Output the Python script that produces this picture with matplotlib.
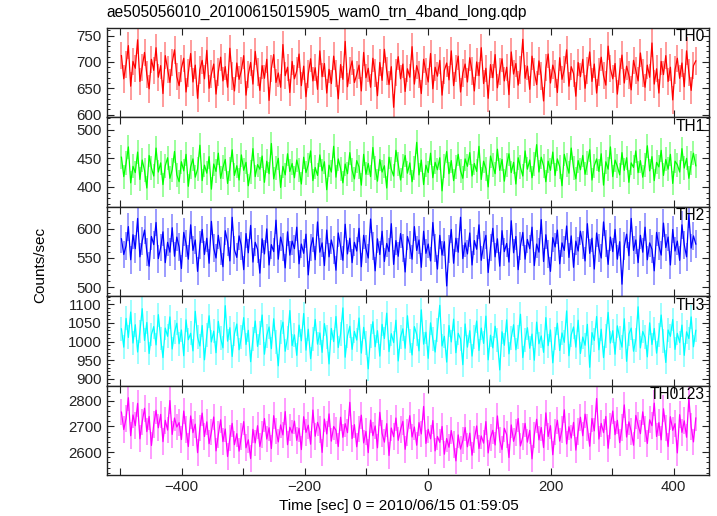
import numpy as np
import matplotlib
matplotlib.use("Agg")
import matplotlib.pyplot as plt
from matplotlib.ticker import MultipleLocator, FuncFormatter

plt.rcParams['font.family'] = ['Liberation Sans', 'DejaVu Sans']

title = "ae505056010_20100615015905_wam0_trn_4band_long.qdp"
xlabel = "Time [sec] 0 = 2010/06/15 01:59:05"
ylabel = "Counts/sec"

# time bins (sec from 2010/06/15 01:59:05)
t_start = -498.0
t_step = 3.75

th0 = [712, 668, 695, 731, 654, 701, 688, 742, 663, 690, 718, 676, 649, 705, 684, 727, 671, 693, 640, 712, 686, 661, 699, 723, 672,
       655, 688, 707, 643, 679, 716, 662, 694, 631, 685, 703, 668, 722, 650, 677, 696, 639, 681, 709, 664, 691, 652, 726, 673, 645,
       698, 667, 684, 712, 637, 676, 699, 658, 720, 681, 646, 693, 669, 705, 627, 688, 714, 661, 679, 652, 733, 674, 690, 642, 701,
       668, 683, 715, 655, 692, 634, 677, 706, 664, 689, 648, 721, 672, 697, 641, 686, 659, 711, 678, 630, 695, 667, 739, 653, 684,
       702, 661, 676, 694, 645, 718, 670, 688, 652, 707, 679, 636, 699, 665, 724, 683, 657, 691, 614, 680, 710, 668, 696, 644, 687,
       671, 729, 658, 693, 676, 640, 705, 682, 662, 716, 649, 690, 673, 703, 637, 684, 698, 666, 721, 655, 687, 711, 643, 679, 696,
       662, 708, 683, 645, 700, 674, 727, 659, 688, 631, 695, 670, 714, 651, 682, 706, 664, 690, 638, 719, 677, 697, 656, 685, 743,
       669, 692, 648, 711, 681, 657, 702, 673, 626, 689, 715, 660, 694, 677, 642, 708, 667, 686, 723, 654, 691, 678, 635, 699, 672,
       705, 650, 684, 719, 663, 696, 641, 681, 709, 674, 656, 730, 687, 668, 697, 639, 682, 713, 660, 692, 675, 647, 703, 684, 664,
       717, 679, 652, 694, 671, 736, 658, 687, 641, 701, 676, 712, 663, 690, 628, 685, 707, 669, 698, 653, 721, 680, 646, 693, 702]

th1 = [452, 418, 441, 470, 407, 436, 425, 461, 413, 447, 429, 398, 455, 433, 419, 468, 426, 442, 404, 437, 451, 415, 430, 462, 421,
       409, 444, 428, 457, 401, 435, 449, 417, 431, 473, 411, 438, 424, 453, 396, 440, 427, 459, 415, 434, 448, 406, 432, 465, 420,
       437, 412, 456, 429, 443, 402, 426, 467, 418, 439, 431, 454, 408, 445, 423, 476, 414, 433, 450, 399, 436, 421, 458, 427, 441,
       416, 447, 430, 405, 452, 425, 439, 463, 411, 434, 420, 456, 428, 444, 395, 438, 426, 471, 417, 449, 432, 407, 440, 423, 460,
       429, 414, 446, 435, 403, 457, 422, 441, 418, 469, 433, 410, 448, 426, 437, 398, 452, 431, 419, 464, 440, 412, 436, 455, 424,
       442, 409, 433, 478, 421, 447, 404, 438, 425, 459, 416, 443, 430, 451, 393, 437, 462, 423, 446, 411, 434, 457, 428, 415, 449,
       436, 460, 419, 441, 427, 471, 413, 445, 432, 400, 454, 438, 423, 466, 429, 448, 410, 439, 458, 425, 443, 405, 451, 434, 419,
       463, 431, 447, 416, 440, 474, 426, 452, 437, 409, 445, 429, 461, 420, 449, 435, 402, 457, 439, 424, 468, 433, 414, 446, 430,
       455, 422, 441, 465, 412, 437, 449, 427, 458, 403, 444, 431, 470, 418, 447, 436, 421, 460, 429, 451, 408, 442, 434, 463, 425,
       446, 417, 438, 472, 428, 453, 411, 443, 435, 464, 420, 448, 431, 457, 406, 445, 439, 426, 467, 433, 450, 415, 441, 459, 437]

th2 = [583, 556, 571, 604, 547, 590, 566, 618, 552, 579, 598, 561, 536, 587, 573, 611, 549, 568, 595, 542, 577, 560, 602, 553, 586,
       569, 532, 594, 575, 548, 607, 563, 581, 527, 572, 599, 556, 584, 541, 613, 567, 550, 589, 562, 535, 597, 578, 545, 620, 564,
       551, 588, 571, 530, 592, 559, 606, 543, 577, 565, 524, 583, 557, 600, 538, 573, 561, 615, 548, 586, 569, 533, 595, 555, 579,
       566, 603, 540, 574, 558, 591, 521, 568, 585, 547, 612, 560, 576, 537, 598, 552, 581, 563, 529, 593, 570, 546, 608, 557, 584,
       542, 577, 562, 601, 535, 589, 566, 550, 617, 571, 528, 583, 556, 596, 544, 575, 561, 609, 539, 580, 553, 592, 567, 526, 587,
       572, 548, 604, 563, 581, 534, 596, 558, 574, 545, 611, 567, 531, 589, 555, 578, 502, 566, 599, 541, 584, 560, 620, 549, 576,
       557, 593, 538, 580, 565, 607, 546, 572, 589, 525, 568, 601, 552, 583, 536, 597, 561, 575, 543, 614, 559, 587, 530, 571, 594,
       548, 582, 566, 603, 537, 574, 560, 616, 544, 590, 557, 527, 585, 569, 598, 540, 576, 563, 605, 551, 588, 534, 579, 562, 596,
       572, 545, 609, 558, 584, 531, 593, 567, 550, 612, 575, 539, 586, 561, 599, 548, 578, 505, 570, 591, 554, 618, 563, 581, 542,
       589, 560, 603, 547, 576, 565, 528, 594, 571, 555, 610, 568, 586, 538, 599, 562, 579, 546, 607, 573, 552, 625, 567, 588, 574]

th3 = [1034, 985, 1062, 1011, 1079, 996, 1045, 972, 1027, 1088, 1003, 1051, 968, 1019, 1040, 991, 1072, 1008, 957, 1036, 1014, 1066, 980, 1025, 1049,
       994, 1031, 962, 1058, 1005, 1022, 975, 1081, 1012, 988, 1043, 951, 1017, 1069, 999, 1028, 970, 1054, 1009, 983, 1096, 1001, 1037, 960, 1021,
       1047, 978, 1013, 1064, 992, 1030, 946, 1007, 1055, 987, 1024, 1071, 966, 1016, 1039, 981, 1061, 998, 935, 1026, 1052, 974, 1010, 1083, 989,
       1018, 963, 1044, 1002, 1075, 977, 1033, 954, 1006, 1059, 993, 1023, 971, 1048, 1012, 940, 1035, 1000, 1067, 984, 1020, 1090, 958, 1015, 1041,
       979, 1027, 1004, 1063, 969, 1038, 995, 927, 1016, 1053, 986, 1029, 961, 1046, 1008, 1076, 973, 1021, 997, 1057, 948, 1012, 1034, 982, 1069,
       1001, 964, 1040, 1019, 975, 1085, 993, 1025, 955, 1050, 1006, 972, 1032, 1097, 988, 1014, 945, 1043, 999, 1060, 970, 1022, 1007, 938, 1047,
       985, 1029, 961, 1011, 1055, 976, 1036, 995, 1068, 951, 1017, 983, 1041, 1003, 924, 1026, 990, 1058, 967, 1010, 1045, 978, 1013, 1073, 957,
       1004, 1037, 982, 1020, 950, 1052, 994, 1015, 971, 1064, 989, 1031, 943, 1008, 1049, 976, 1023, 998, 1082, 962, 1018, 1039, 985, 1057, 968,
       1012, 990, 1046, 931, 1024, 1003, 1067, 978, 1033, 957, 1015, 1078, 996, 1029, 966, 1042, 1009, 985, 1061, 947, 1020, 1036, 974, 1005, 1093,
       983, 1027, 1011, 959, 1050, 992, 1035, 969, 1018, 1071, 1001, 944, 1031, 1014, 1059, 979, 1022, 997, 1044, 963, 1026, 1008, 1066, 986, 1030]

th0123 = [2756, 2688, 2731, 2812, 2664, 2745, 2703, 2790, 2652, 2718, 2771, 2680, 2739, 2626, 2708, 2763, 2695, 2747, 2641, 2724, 2686, 2801, 2669, 2733, 2698,
          2715, 2649, 2760, 2687, 2622, 2741, 2676, 2709, 2598, 2694, 2752, 2661, 2718, 2633, 2679, 2737, 2605, 2668, 2726, 2641, 2690, 2583, 2655, 2712, 2629,
          2672, 2604, 2661, 2719, 2617, 2648, 2575, 2689, 2636, 2703, 2622, 2670, 2731, 2651, 2695, 2614, 2742, 2683, 2640, 2706, 2667, 2758, 2629, 2697, 2674,
          2721, 2646, 2693, 2610, 2738, 2677, 2705, 2631, 2764, 2662, 2716, 2688, 2599, 2729, 2671, 2749, 2643, 2700, 2685, 2622, 2736, 2658, 2711, 2676, 2794,
          2653, 2707, 2621, 2690, 2744, 2636, 2681, 2598, 2725, 2664, 2702, 2617, 2755, 2673, 2639, 2711, 2587, 2694, 2660, 2733, 2646, 2688, 2720, 2611, 2676,
          2742, 2659, 2698, 2627, 2715, 2671, 2778, 2634, 2689, 2652, 2723, 2605, 2661, 2638, 2700, 2592, 2653, 2619, 2684, 2631, 2566, 2667, 2612, 2645, 2696,
          2621, 2674, 2588, 2650, 2702, 2614, 2663, 2635, 2719, 2597, 2656, 2685, 2628, 2741, 2647, 2610, 2693, 2668, 2579, 2706, 2642, 2677, 2731, 2624, 2660,
          2712, 2639, 2685, 2574, 2667, 2728, 2648, 2696, 2618, 2753, 2661, 2703, 2590, 2679, 2724, 2643, 2687, 2765, 2632, 2699, 2655, 2716, 2608, 2681, 2736,
          2664, 2748, 2697, 2623, 2731, 2683, 2809, 2651, 2712, 2676, 2739, 2615, 2702, 2760, 2668, 2724, 2637, 2695, 2784, 2659, 2718, 2681, 2627, 2743, 2705,
          2672, 2757, 2690, 2634, 2726, 2703, 2791, 2661, 2715, 2648, 2769, 2694, 2622, 2738, 2685, 2711, 2597, 2746, 2677, 2722, 2658, 2810, 2699, 2640, 2733]

names = ["TH0", "TH1", "TH2", "TH3", "TH0123"]
series = [th0, th1, th2, th3, th0123]
errors = [26, 21, 24, 32, 52]
colors = ["#ff0000", "#00ff00", "#0000ff", "#00ffff", "#ff00ff"]
ylims = [(595, 765), (365, 522), (484, 638), (881, 1121), (2509, 2858)]
ymajor = [50, 50, 50, 50, 100]
yminor = [10, 10, 10, 10, 20]

time = t_start + t_step * np.arange(len(th0))


def xfmt(v, pos):
    iv = int(round(v))
    if iv % 200 != 0:
        return ""
    return ("\u2212" if iv < 0 else "") + str(abs(iv))


fig, axes = plt.subplots(5, 1, sharex=True, figsize=(7.17, 5.16), dpi=100)
fig.subplots_adjust(left=0.1488, right=0.9895, top=0.9463, bottom=0.0785, hspace=0)

for ax, name, y, err, c, yl, mj, mn in zip(axes, names, series, errors, colors, ylims, ymajor, yminor):
    ax.errorbar(time, y, yerr=err, fmt="none", ecolor=c, elinewidth=1.1, alpha=0.5)
    ax.plot(time, y, color=c, lw=0.9)
    ax.set_ylim(*yl)
    ax.set_xlim(-522, 458)
    ax.yaxis.set_major_locator(MultipleLocator(mj))
    ax.yaxis.set_minor_locator(MultipleLocator(mn))
    ax.xaxis.set_major_locator(MultipleLocator(100))
    ax.xaxis.set_major_formatter(FuncFormatter(xfmt))
    ax.tick_params(which="both", direction="in", top=True, right=True, labelsize=10.8, colors="#222222")
    ax.tick_params(which="major", length=5, width=0.8)
    ax.tick_params(which="minor", length=2.5, width=0.7)
    for s in ax.spines.values():
        s.set_linewidth(1.0)
        s.set_color("#222222")
    ax.text(0.992, 0.985, name, transform=ax.transAxes, ha="right", va="top", fontsize=11.2)

fig.text(0.1488, 0.975, title, ha="left", va="center", fontsize=11.2)
fig.text(0.5565, 0.019, xlabel, ha="center", va="center", fontsize=11)
fig.text(0.056, 0.486, ylabel, ha="center", va="center", rotation=90, fontsize=11)

fig.savefig("out.png", dpi=100)
